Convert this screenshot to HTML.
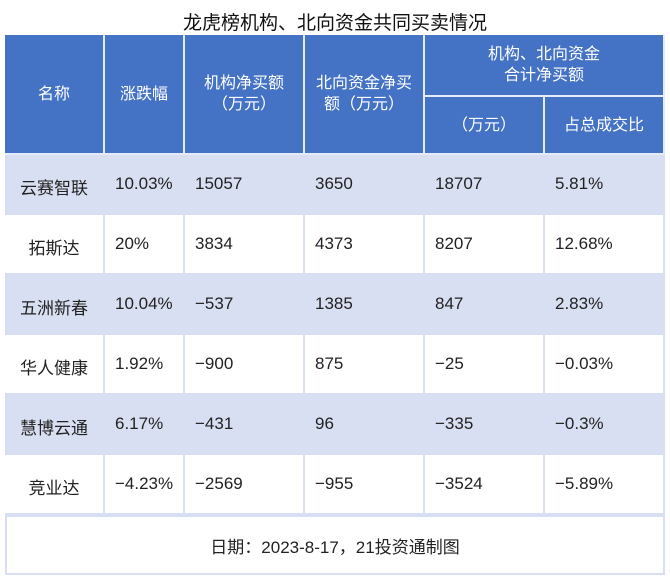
<!DOCTYPE html>
<html><head><meta charset="utf-8"><style>
body{margin:0;width:670px;height:580px;background:#fff;font-family:"Liberation Sans","Noto Sans CJK SC",sans-serif;position:relative;overflow:hidden}
.a{position:absolute;box-sizing:border-box}
.t{left:0;width:670px;top:8px;text-align:center;font-size:19px;color:#111}
.h{background:#4472c4;color:#fff;font-size:16px;display:flex;align-items:center;justify-content:center;text-align:center;line-height:21px;border-right:2px solid #e6ebf7;border-bottom:2px solid #e6ebf7}
.c{font-size:17px;color:#222;display:flex;align-items:center;padding-left:10px;border-right:2px solid #d9dff2;border-bottom:2px solid #d9dff2}
.c.n{justify-content:center;padding-left:0;padding-top:4px}
.b{background:#d9dff2}
.f{left:5px;width:660px;top:515px;height:60px;display:flex;align-items:center;justify-content:center;font-size:17px;color:#222;border:2px solid #d9dff2}
</style></head><body>
<div class="a t">龙虎榜机构、北向资金共同买卖情况</div>
<div id="tbl"></div>
<div class="a f">日期：2023-8-17，21投资通制图</div>
<script>
const names=["云赛智联","拓斯达","五洲新春","华人健康","慧博云通","竞业达"];
const changes=["10.03%","20%","10.04%","1.92%","6.17%","−4.23%"];
const inst=["15057","3834","−537","−900","−431","−2569"];
const north=["3650","4373","1385","875","96","−955"];
const total=["18707","8207","847","−25","−335","−3524"];
const ratio=["5.81%","12.68%","2.83%","−0.03%","−0.3%","−5.89%"];
const xs=[5,105,185,305,425,545,665];
const root=document.getElementById('tbl');
function cell(cls,x,y,w,h,txt,name){const d=document.createElement('div');d.className='a '+cls;d.style.left=x+'px';d.style.top=y+'px';d.style.width=w+'px';d.style.height=h+'px';d.innerHTML=txt;


root.appendChild(d);return d;}
cell('h',5,35,100,120,'名称','header-name');
cell('h',105,35,80,120,'涨跌幅','header-change');
cell('h',185,35,120,120,'机构净买额<br>（万元）','header-inst');
cell('h',305,35,120,120,'北向资金净买<br>额（万元）','header-north');
cell('h',425,35,240,62,'机构、北向资金<br>合计净买额','header-combined');
cell('h',425,97,120,58,'（万元）','header-total');
cell('h',545,97,120,58,'占总成交比','header-ratio');
const cols=[names,changes,inst,north,total,ratio];
const cn=['name','change','inst','north','total','ratio'];
for(let r=0;r<names.length;r++){
 const y=155+r*60;
 for(let c=0;c<6;c++){
  cell('c'+(c==0?' n':'')+(r%2==0?' b':''),xs[c],y,xs[c+1]-xs[c],60,cols[c][r],'cell-'+cn[c]+'-'+(r+1));
 }
}
</script>
</body></html>
